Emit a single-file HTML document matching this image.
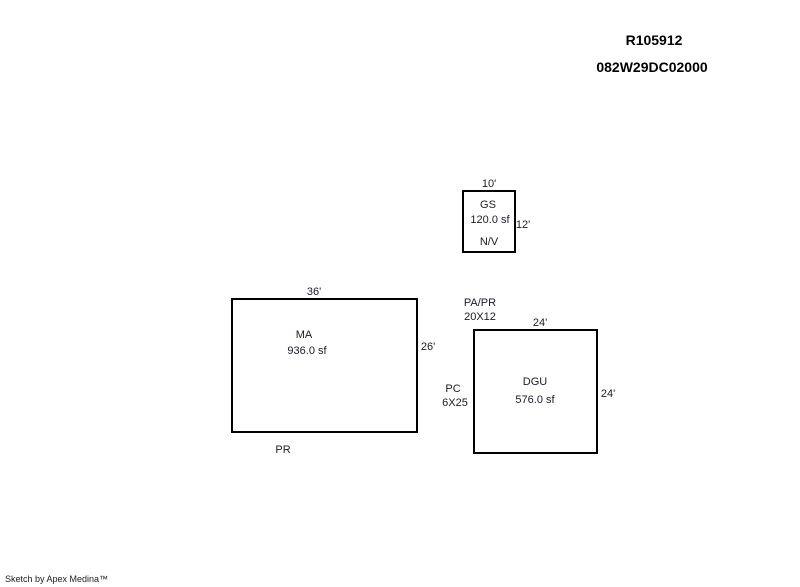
<!DOCTYPE html>
<html><head><meta charset="utf-8"><style>
html,body{margin:0;padding:0;background:#fff;}
svg{display:block}
text{font-family:"Liberation Sans",Arial,sans-serif;font-size:11px;fill:#1a1a2e;}
.b{font-weight:bold;font-size:14px;fill:#000;}
</style></head><body>
<svg width="800" height="587" viewBox="0 0 800 587" xmlns="http://www.w3.org/2000/svg">
<rect width="800" height="587" fill="#fff"/>
<text class="b" x="654" y="45" text-anchor="middle">R105912</text>
<text class="b" x="652" y="72" text-anchor="middle">082W29DC02000</text>
<g fill="none" stroke="#000" stroke-width="2">
<rect x="463" y="191" width="52" height="61"/>
<rect x="232" y="299" width="185" height="133"/>
<rect x="474" y="330" width="123" height="123"/>
</g>
<g text-anchor="middle">
<text x="489" y="187">10'</text>
<text x="488" y="208">GS</text>
<text x="490" y="223">120.0 sf</text>
<text x="489" y="245">N/V</text>
<text x="523" y="228">12'</text>
<text x="314" y="295">36'</text>
<text x="304" y="338">MA</text>
<text x="307" y="354">936.0 sf</text>
<text x="428" y="350">26'</text>
<text x="283" y="453">PR</text>
<text x="480" y="306">PA/PR</text>
<text x="480" y="320">20X12</text>
<text x="540" y="326">24'</text>
<text x="453" y="392">PC</text>
<text x="455" y="406">6X25</text>
<text x="535" y="385">DGU</text>
<text x="535" y="403">576.0 sf</text>
<text x="608" y="397">24'</text>
</g>
<text x="5" y="582" style="font-size:9px">Sketch by Apex Medina™</text>
</svg>
</body></html>
